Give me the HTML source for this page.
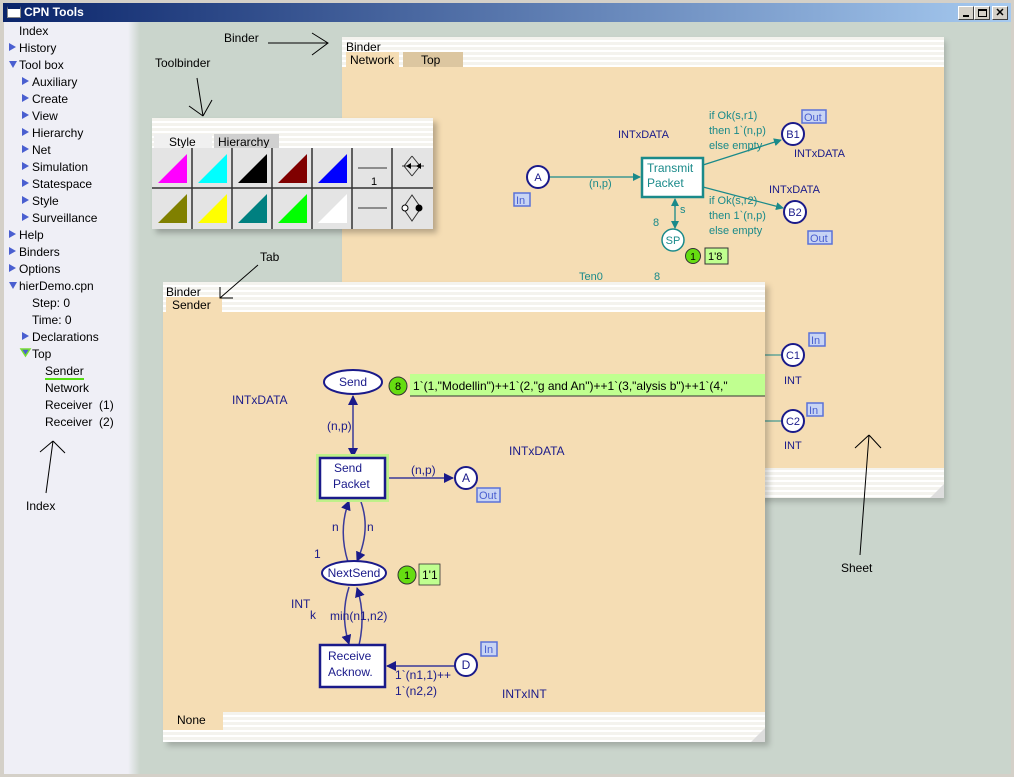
<!DOCTYPE html>
<html><head><meta charset="utf-8"><style>
*{margin:0;padding:0;box-sizing:border-box}
body{width:1014px;height:777px;overflow:hidden;background:#d4d0c8;font-family:"Liberation Sans",sans-serif;font-size:12px;position:relative}
.a{position:absolute;white-space:nowrap}
.stripes{background:repeating-linear-gradient(#f4f3ee 0 3px,#ffffff 3px 5px)}
.tab{position:absolute;font-size:12px;padding:1px 4px 0 4px;height:15px}
.cell{position:absolute;width:40px;height:40px;background:#e4e4e4;border-right:2px solid #333;border-bottom:2px solid #333}
.lp div{position:absolute;white-space:nowrap;font-size:12px;color:#000}
.tri{position:absolute;width:0;height:0}
</style></head><body>
<!-- title bar -->
<div class="a" style="left:0;top:0;width:1014px;height:777px;border:3px solid #d4d0c8"></div>
<div class="a" style="left:3px;top:3px;width:1008px;height:19px;background:linear-gradient(90deg,#0a246a,#a6caf0)"></div>
<div class="a" style="left:7px;top:6px;width:14px;height:12px;background:#fff;border:1px solid #888;border-top:3px solid #0a246a"></div>
<div class="a" style="left:24px;top:5px;color:#fff;font-weight:bold;font-size:12px">CPN Tools</div>
<div class="a" style="left:958px;top:6px;width:16px;height:14px;background:#d4d0c8;border:1px solid #fff;border-right-color:#404040;border-bottom-color:#404040"><div class="a" style="left:4px;top:8px;width:6px;height:2px;background:#000"></div></div>
<div class="a" style="left:974px;top:6px;width:16px;height:14px;background:#d4d0c8;border:1px solid #fff;border-right-color:#404040;border-bottom-color:#404040"><div class="a" style="left:3px;top:2px;width:9px;height:8px;border:1px solid #000;border-top-width:2px"></div></div>
<div class="a" style="left:992px;top:6px;width:16px;height:14px;background:#d4d0c8;border:1px solid #fff;border-right-color:#404040;border-bottom-color:#404040;font-size:11px;font-weight:bold;text-align:center;line-height:12px">✕</div>
<!-- main area -->
<div class="a" style="left:4px;top:22px;width:1007px;height:752px;background:#cad5cc"></div>
<div class="a" style="left:4px;top:22px;width:136px;height:752px;background:linear-gradient(90deg,#efeff6 0,#efeff6 124px,#cad5cc 136px)"></div>
<!-- left panel -->
<div class="lp">
<div style="left:19px;top:24px">Index</div>
<div style="left:19px;top:41px">History</div>
<div style="left:19px;top:58px">Tool box</div>
<div style="left:32px;top:75px">Auxiliary</div>
<div style="left:32px;top:92px">Create</div>
<div style="left:32px;top:109px">View</div>
<div style="left:32px;top:126px">Hierarchy</div>
<div style="left:32px;top:143px">Net</div>
<div style="left:32px;top:160px">Simulation</div>
<div style="left:32px;top:177px">Statespace</div>
<div style="left:32px;top:194px">Style</div>
<div style="left:32px;top:211px">Surveillance</div>
<div style="left:19px;top:228px">Help</div>
<div style="left:19px;top:245px">Binders</div>
<div style="left:19px;top:262px">Options</div>
<div style="left:19px;top:279px">hierDemo.cpn</div>
<div style="left:32px;top:296px">Step: 0</div>
<div style="left:32px;top:313px">Time: 0</div>
<div style="left:32px;top:330px">Declarations</div>
<div style="left:32px;top:347px">Top</div>
<div style="left:45px;top:364px;border-bottom:2px solid #55dd11;line-height:14px">Sender</div>
<div style="left:45px;top:381px">Network</div>
<div style="left:45px;top:398px">Receiver &nbsp;(1)</div>
<div style="left:45px;top:415px">Receiver &nbsp;(2)</div>
<div style="left:26px;top:499px">Index</div>
</div>
<svg class="a" style="left:0;top:0" width="140" height="360">
<g fill="#4a5fd0">
<polygon points="9,43 9,51 16,47"/><polygon points="9,61 17,61 13,68"/>
<polygon points="22,77 22,85 29,81"/><polygon points="22,94 22,102 29,98"/><polygon points="22,111 22,119 29,115"/><polygon points="22,128 22,136 29,132"/><polygon points="22,145 22,153 29,149"/><polygon points="22,162 22,170 29,166"/><polygon points="22,179 22,187 29,183"/><polygon points="22,196 22,204 29,200"/><polygon points="22,213 22,221 29,217"/>
<polygon points="9,230 9,238 16,234"/><polygon points="9,247 9,255 16,251"/><polygon points="9,264 9,272 16,268"/><polygon points="9,282 17,282 13,289"/>
<polygon points="22,332 22,340 29,336"/><polygon points="21,349 30,349 25.5,356" stroke="#7d3" stroke-width="1.5"/>
</g></svg>

<!-- back binder -->
<div class="a" style="left:346px;top:41px;width:600px;height:461px;background:rgba(0,0,0,.18);filter:blur(3px)"></div>
<div class="a stripes" style="left:342px;top:37px;width:602px;height:461px"></div>
<div class="a" style="left:346px;top:40px;font-size:12px">Binder</div>
<div class="tab" style="left:346px;top:52px;width:53px;background:#f5ddb4">Network</div>
<div class="tab" style="left:403px;top:52px;width:60px;background:#dcc6a0;padding-left:18px">Top</div>
<div class="a" style="left:342px;top:67px;width:602px;height:401px;background:#f5ddb4"></div>
<svg class="a" style="left:930px;top:484px" width="14" height="14"><polygon points="14,0 14,14 0,14" fill="#ddd"/></svg>

<!-- toolbinder -->
<div class="a" style="left:156px;top:122px;width:281px;height:111px;background:rgba(0,0,0,.25);filter:blur(3px)"></div>
<div class="a stripes" style="left:152px;top:118px;width:281px;height:111px"></div>
<div class="tab" style="left:154px;top:134px;width:58px;background:#f0f0f0;padding-left:15px">Style</div>
<div class="tab" style="left:214px;top:134px;width:65px;background:#d0d0d0">Hierarchy</div>
<div class="a" style="left:152px;top:148px;width:281px;height:81px;background:#e4e4e4"></div>
<svg class="a" style="left:152px;top:148px" width="281" height="81">
<g stroke="#333" stroke-width="1.5"><line x1="40" y1="0" x2="40" y2="81"/><line x1="80" y1="0" x2="80" y2="81"/><line x1="120" y1="0" x2="120" y2="81"/><line x1="160" y1="0" x2="160" y2="81"/><line x1="200" y1="0" x2="200" y2="81"/><line x1="240" y1="0" x2="240" y2="81"/><line x1="0" y1="40" x2="281" y2="40"/></g>
<polygon points="6,35 35,35 35,6" fill="#ff00ff"/><polygon points="46,35 75,35 75,6" fill="#00ffff"/><polygon points="86,35 115,35 115,6" fill="#000"/><polygon points="126,35 155,35 155,6" fill="#800000"/><polygon points="166,35 195,35 195,6" fill="#0000ff"/>
<polygon points="6,75 35,75 35,46" fill="#808000"/><polygon points="46,75 75,75 75,46" fill="#ffff00"/><polygon points="86,75 115,75 115,46" fill="#008080"/><polygon points="126,75 155,75 155,46" fill="#00ff00"/><polygon points="166,75 195,75 195,46" fill="#fff"/>
<line x1="206" y1="20" x2="235" y2="20" stroke="#333"/><text x="219" y="37" font-size="11" font-family="Liberation Sans">1</text>
<line x1="206" y1="60" x2="235" y2="60" stroke="#333"/>
<path d="M260,8 L252,18 L260,28 M260,8 L268,18 L260,28" fill="none" stroke="#333"/><line x1="250" y1="18" x2="272" y2="18" stroke="#333"/><polygon points="254,18 259,15 259,21"/><polygon points="264,18 269,15 269,21"/>
<path d="M260,47 L251,60 L260,73 L269,60 Z" fill="none" stroke="#333"/><circle cx="253" cy="60" r="3" fill="#fff" stroke="#000"/><circle cx="267" cy="60" r="3.5" fill="#000"/>
</svg>

<!-- back binder net -->
<svg class="a" style="left:0;top:0" width="1014" height="777" font-family="Liberation Sans" font-size="11">
<defs><marker id="tg" markerWidth="8" markerHeight="8" refX="7" refY="4" orient="auto" markerUnits="userSpaceOnUse"><polygon points="0,0 8,4 0,8" fill="#1a8a8a"/></marker>
<marker id="bl" markerWidth="10" markerHeight="10" refX="9" refY="5" orient="auto" markerUnits="userSpaceOnUse"><polygon points="0,0 10,5 0,10" fill="#1a1a8a"/></marker></defs>
<g fill="#1a8a8a" stroke="#1a8a8a">
<line x1="549" y1="177" x2="640" y2="177" marker-end="url(#tg)" stroke-width="1.3"/>
<line x1="703" y1="165" x2="781" y2="140" marker-end="url(#tg)" stroke-width="1.3"/>
<line x1="703" y1="187" x2="783" y2="208" marker-end="url(#tg)" stroke-width="1.3"/>
<line x1="675" y1="207" x2="675" y2="199" marker-end="url(#tg)" stroke-width="1.3"/>
<line x1="675" y1="203" x2="675" y2="228" marker-end="url(#tg)" stroke-width="1.3"/>
<line x1="765" y1="355" x2="782" y2="355"/><line x1="765" y1="421" x2="782" y2="421"/>
</g>
<rect x="642" y="158" width="61" height="39" fill="#fff" stroke="#1a8a8a" stroke-width="2.5"/>
<text x="647" y="172" fill="#1a8a8a" font-size="12">Transmit</text><text x="647" y="187" fill="#1a8a8a" font-size="12">Packet</text>
<g fill="#fff" stroke="#1a1a8a" stroke-width="2"><circle cx="538" cy="177" r="11"/><circle cx="793" cy="134" r="11"/><circle cx="795" cy="212" r="11"/><circle cx="793" cy="355" r="11"/><circle cx="793" cy="421" r="11"/></g>
<circle cx="673" cy="240" r="11" fill="#fff" stroke="#1a8a8a" stroke-width="1.5"/>
<g fill="#1a1a8a" font-size="11" text-anchor="middle"><text x="538" y="181">A</text><text x="793" y="138">B1</text><text x="795" y="216">B2</text><text x="793" y="359">C1</text><text x="793" y="425">C2</text></g>
<text x="673" y="244" fill="#1a8a8a" text-anchor="middle">SP</text>
<g fill="#1a8a8a"><text x="589" y="187">(n,p)</text><text x="709" y="119">if Ok(s,r1)</text><text x="709" y="134">then 1`(n,p)</text><text x="709" y="149">else empty</text>
<text x="709" y="204">if Ok(s,r2)</text><text x="709" y="219">then 1`(n,p)</text><text x="709" y="234">else empty</text>
<text x="680" y="213">s</text><text x="653" y="226">8</text><text x="579" y="280">Ten0</text><text x="654" y="280">8</text></g>
<g fill="#1a1a8a"><text x="618" y="138">INTxDATA</text><text x="794" y="157">INTxDATA</text><text x="769" y="193">INTxDATA</text><text x="784" y="384">INT</text><text x="784" y="449">INT</text></g>
<g fill="#c8d4f4" stroke="#5a72d8" stroke-width="1.5"><rect x="514" y="193" width="16" height="13"/><rect x="802" y="110" width="24" height="13"/><rect x="808" y="231" width="24" height="13"/><rect x="809" y="333" width="16" height="13"/><rect x="807" y="403" width="16" height="13"/></g>
<g fill="#4a5fd0" font-size="11"><text x="516" y="204">In</text><text x="804" y="121">Out</text><text x="810" y="242">Out</text><text x="811" y="344">In</text><text x="809" y="414">In</text></g>
<circle cx="693" cy="256" r="7.5" fill="#66dd11" stroke="#333"/><text x="693" y="260" text-anchor="middle" font-size="10">1</text>
<rect x="705" y="248" width="23" height="16" fill="#c0ff90" stroke="#333"/><text x="708" y="260" font-size="11">1'8</text>
</svg>

<!-- front binder -->
<div class="a" style="left:167px;top:286px;width:602px;height:460px;background:rgba(0,0,0,.2);filter:blur(3px)"></div>
<div class="a stripes" style="left:163px;top:282px;width:602px;height:460px"></div>
<div class="a" style="left:166px;top:285px">Binder</div>
<div class="tab" style="left:166px;top:297px;width:56px;background:#f5ddb4"><span style="border-bottom:2px solid #55dd11;padding:0 2px">Sender</span></div>
<div class="a" style="left:163px;top:312px;width:602px;height:400px;background:#f5ddb4"></div>
<div class="tab" style="left:163px;top:712px;width:60px;height:18px;background:#f5ddb4;padding:1px 14px">None</div>
<svg class="a" style="left:751px;top:728px" width="14" height="14"><polygon points="14,0 14,14 0,14" fill="#ddd"/></svg>

<svg class="a" style="left:0;top:0" width="1014" height="777" font-family="Liberation Sans" font-size="12">
<defs><marker id="b2" markerWidth="10" markerHeight="10" refX="9" refY="5" orient="auto" markerUnits="userSpaceOnUse"><polygon points="0,0 10,5 0,10" fill="#1a1a8a"/></marker></defs>
<rect x="410" y="374" width="355" height="22" fill="#c0ff90"/><line x1="410" y1="396" x2="765" y2="396" stroke="#333"/>
<text x="413" y="390" font-size="12">1`(1,"Modellin")++1`(2,"g and An")++1`(3,"alysis b")++1`(4,"</text>
<circle cx="398" cy="386" r="9" fill="#66dd11" stroke="#333"/><text x="398" y="390" text-anchor="middle" font-size="11">8</text>
<g stroke="#3a3a9a" stroke-width="1.5" fill="none">
<line x1="353" y1="426" x2="353" y2="396" marker-end="url(#b2)"/><line x1="353" y1="426" x2="353" y2="457" marker-end="url(#b2)"/>
<line x1="385" y1="478" x2="453" y2="478" marker-end="url(#b2)"/>
<path d="M348,562 Q338,530 349,501" marker-end="url(#b2)"/>
<path d="M361,502 Q371,530 357,561" marker-end="url(#b2)"/>
<path d="M349,587 Q340,615 349,644" marker-end="url(#b2)"/>
<path d="M359,645 Q366,615 357,588" marker-end="url(#b2)"/>
<line x1="455" y1="666" x2="387" y2="666" marker-end="url(#b2)"/>
</g>
<rect x="318" y="456" width="69" height="44" fill="none" stroke="#bff08a" stroke-width="4"/>
<rect x="320" y="458" width="65" height="40" fill="#fff" stroke="#1a1a8a" stroke-width="2.5"/>
<rect x="320" y="645" width="65" height="42" fill="#fff" stroke="#1a1a8a" stroke-width="2.5"/>
<g fill="#1a1a8a"><text x="334" y="472">Send</text><text x="333" y="488">Packet</text><text x="328" y="660">Receive</text><text x="328" y="676">Acknow.</text></g>
<g fill="#fff" stroke="#1a1a8a" stroke-width="2"><ellipse cx="353" cy="382" rx="29" ry="12"/><ellipse cx="354" cy="573" rx="32" ry="12"/><circle cx="466" cy="478" r="11"/><circle cx="466" cy="665" r="11"/></g>
<g fill="#1a1a8a" text-anchor="middle"><text x="353" y="386">Send</text><text x="354" y="577">NextSend</text><text x="466" y="482">A</text><text x="466" y="669">D</text></g>
<g fill="#1a1a8a"><text x="232" y="404">INTxDATA</text><text x="327" y="430">(n,p)</text><text x="411" y="474">(n,p)</text><text x="509" y="455">INTxDATA</text>
<text x="332" y="531">n</text><text x="367" y="531">n</text><text x="314" y="558">1</text><text x="291" y="608">INT</text><text x="310" y="619">k</text><text x="330" y="620">min(n1,n2)</text>
<text x="395" y="679">1`(n1,1)++</text><text x="395" y="695">1`(n2,2)</text><text x="502" y="698">INTxINT</text></g>
<g fill="#c8d4f4" stroke="#5a72d8" stroke-width="1.5"><rect x="477" y="488" width="23" height="14"/><rect x="481" y="642" width="16" height="14"/></g>
<g fill="#4a5fd0" font-size="11"><text x="479" y="499">Out</text><text x="484" y="653">In</text></g>
<circle cx="407" cy="575" r="9" fill="#66dd11" stroke="#333"/><text x="407" y="579" text-anchor="middle" font-size="11">1</text>
<rect x="419" y="564" width="21" height="21" fill="#c0ff90" stroke="#333" stroke-width=".8"/><text x="422" y="579">1'1</text>
</svg>

<!-- annotations -->
<svg class="a" style="left:0;top:0" width="1014" height="777" font-family="Liberation Sans" font-size="12">
<g stroke="#000" fill="none" stroke-width="1">
<path d="M268,43 L328,43 M312,33 L328,43 L312,55"/>
<path d="M197,78 L203,116 M189,106 L203,116 M212,100 L203,116"/>
<path d="M258,265 L220,298 M220,287 L220,298 L233,298"/>
<path d="M46,493 L53,441 M40,452 L53,441 M65,453 L53,441"/>
<path d="M860,555 L869,435 M855,448 L869,435 M881,448 L869,435"/>
</g>
<g fill="#000"><text x="224" y="42">Binder</text><text x="155" y="67">Toolbinder</text><text x="260" y="261">Tab</text><text x="841" y="572">Sheet</text></g>
</svg>
</body></html>
